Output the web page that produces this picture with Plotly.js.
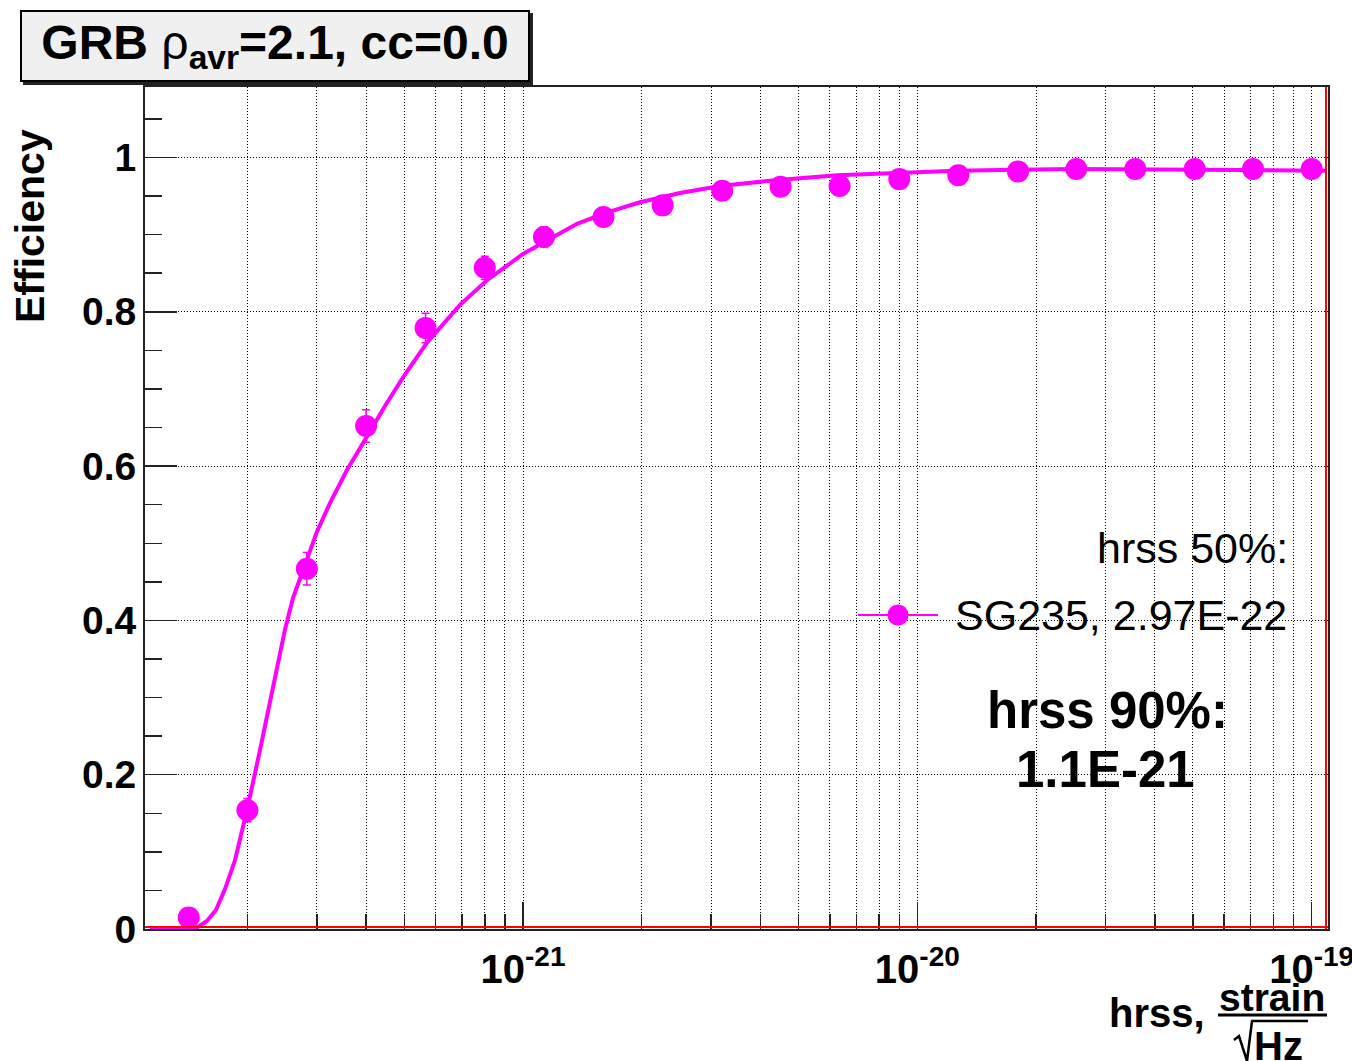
<!DOCTYPE html>
<html>
<head>
<meta charset="utf-8">
<script src="https://cdn.plot.ly/plotly-3.0.1.min.js"></script>
<style>
  html, body { margin: 0; padding: 0; background: #ffffff; }
  #chart { width: 1352px; height: 1061px; }
</style>
</head>
<body>
<div id="chart"></div>
<script>
// Detection efficiency of SG235 injections against hrss (GRB search)
const hrss = [1.42e-22, 2.0e-22, 2.83e-22, 4.0e-22, 5.66e-22, 8.0e-22, 1.13e-21, 1.6e-21,
              2.26e-21, 3.2e-21, 4.5e-21, 6.35e-21, 9.0e-21, 1.27e-20, 1.8e-20, 2.53e-20,
              3.57e-20, 5.05e-20, 7.1e-20, 1.0e-19];
const efficiency = [0.015, 0.154, 0.467, 0.652, 0.779, 0.857, 0.897, 0.923,
                    0.938, 0.957, 0.962, 0.963, 0.972, 0.977, 0.982, 0.985,
                    0.985, 0.985, 0.985, 0.985];
const efficiencyErr = [0.005, 0.015, 0.021, 0.021, 0.019, 0.015, 0.013, 0.011,
                       0.010, 0.009, 0.008, 0.008, 0.007, 0.006, 0.006, 0.005,
                       0.005, 0.005, 0.005, 0.005];

// Fitted efficiency curve, sampled along hrss
const fitHrss = [1.132e-22, 1.430e-22, 1.499e-22, 1.580e-22, 1.665e-22, 1.755e-22, 1.861e-22, 1.995e-22,
                 2.153e-22, 2.350e-22, 2.491e-22, 2.610e-22, 2.817e-22, 3.003e-22, 3.239e-22, 3.578e-22,
                 3.975e-22, 4.467e-22, 4.963e-22, 5.707e-22, 6.921e-22, 8.103e-22, 1.000e-21, 1.124e-21,
                 1.371e-21, 1.614e-21, 1.980e-21, 2.501e-21, 3.160e-21, 4.432e-21, 6.256e-21, 8.878e-21,
                 1.253e-20, 1.769e-20, 2.495e-20, 5.21e-20, 1.094e-19];
const fitEff = [0.0, 0.0, 0.0026, 0.0104, 0.0246, 0.0518, 0.0894, 0.154,
                0.232, 0.323, 0.388, 0.429, 0.476, 0.515, 0.552, 0.595,
                0.634, 0.678, 0.715, 0.760, 0.809, 0.841, 0.875, 0.890,
                0.914, 0.928, 0.942, 0.954, 0.963, 0.971, 0.977, 0.980,
                0.983, 0.984, 0.985, 0.984, 0.983];

// Axis ticks
const xMajorTicks = [1e-21, 1e-20, 1e-19];
const xMajorLabels = ['10<sup>-21</sup>', '10<sup>-20</sup>', '10<sup>-19</sup>'];
const decades = [1e-22, 1e-21, 1e-20];
const digits = [2, 3, 4, 5, 6, 7, 8, 9];

const legendLabel = 'SG235, 2.97E-22';
const legendHeader = 'hrss 50%:';
const hrss90Label = 'hrss 90%:';
const hrss90Value = '1.1E-21';

const xMinorTicks = [];
decades.forEach(d => digits.forEach(k => xMinorTicks.push(k * d)));

const MAGENTA = '#ff00ff';
const FONT = 'Liberation Sans, Arial, Helvetica, sans-serif';

// Page layout: plot frame in pixels
const L = 145, R = 1328, T = 87, B = 929;
const W = R - L, H = B - T;
const px = x => (x - L) / W;
const py = y => (B - y) / H;

const fitTrace = {
  x: fitHrss, y: fitEff,
  type: 'scatter', mode: 'lines',
  line: { color: MAGENTA, width: 4 },
  hoverinfo: 'skip', showlegend: false
};

const dataTrace = {
  x: hrss, y: efficiency,
  type: 'scatter', mode: 'markers',
  name: legendLabel,
  marker: { color: MAGENTA, size: 22, line: { width: 0 } },
  error_y: { type: 'data', array: efficiencyErr, visible: true,
             color: MAGENTA, thickness: 1.5, width: 4 },
  showlegend: false
};

const gridDash = '1px,2px';

const layout = {
  width: 1352, height: 1061,
  paper_bgcolor: '#ffffff', plot_bgcolor: '#ffffff',
  margin: { l: L, r: 1352 - R, t: T, b: 1061 - B, pad: 0 },
  showlegend: false,
  font: { family: FONT, color: '#000000' },
  xaxis: {
    type: 'log',
    range: [Math.log10(1.1e-22), Math.log10(1.1e-19)],
    tickmode: 'array', tickvals: xMajorTicks, ticktext: xMajorLabels,
    ticks: 'inside', ticklen: 27, tickwidth: 1.5, tickcolor: '#222222',
    tickfont: { family: FONT, size: 40, weight: 700, color: '#000000' },
    ticklabelstandoff: 4, ticklabeloverflow: 'allow',
    showgrid: true, gridcolor: '#000000', gridwidth: 1, griddash: gridDash,
    minor: {
      tickmode: 'array', tickvals: xMinorTicks,
      ticks: 'inside', ticklen: 15, tickwidth: 1.5, tickcolor: '#222222',
      showgrid: true, gridcolor: '#000000', gridwidth: 1, griddash: gridDash
    },
    showline: true, linecolor: '#222222', linewidth: 2, mirror: true,
    zeroline: false, automargin: false, fixedrange: true
  },
  yaxis: {
    range: [0, 1.0914],
    tick0: 0, dtick: 0.2,
    ticks: 'inside', ticklen: 32, tickwidth: 1.5, tickcolor: '#222222',
    tickfont: { family: FONT, size: 39, weight: 700, color: '#000000' },
    ticklabelstandoff: -1,
    showgrid: true, gridcolor: '#000000', gridwidth: 1, griddash: gridDash,
    minor: { dtick: 0.05, tick0: 0, ticks: 'inside', ticklen: 17, tickwidth: 1.5,
             tickcolor: '#222222', showgrid: false },
    showline: true, linecolor: '#222222', linewidth: 2, mirror: true,
    zeroline: false, automargin: false, fixedrange: true
  },
  shapes: [
    // red frame lines just inside the bottom and right axes
    { type: 'line', xref: 'paper', yref: 'paper', x0: 0, x1: 1,
      ysizemode: 'pixel', yanchor: 0, y0: 2, y1: 2,
      line: { color: '#ff0000', width: 2 }, layer: 'above' },
    { type: 'line', xref: 'paper', yref: 'paper', y0: 0, y1: 1,
      xsizemode: 'pixel', xanchor: 1, x0: -2, x1: -2,
      line: { color: '#ff0000', width: 2 }, layer: 'above' },
    // legend pad (covers the grid)
    { type: 'rect', xref: 'paper', yref: 'paper',
      x0: px(842), x1: px(1290), y0: py(901), y1: py(328),
      fillcolor: '#ffffff', line: { width: 0 }, layer: 'between' },
    // legend key
    { type: 'line', xref: 'paper', yref: 'paper',
      x0: px(858), x1: px(938), y0: py(615), y1: py(615),
      line: { color: MAGENTA, width: 2 }, layer: 'above' },
    { type: 'circle', xref: 'paper', yref: 'paper',
      x0: px(887.5), x1: px(908.5), y0: py(625.5), y1: py(604.5),
      fillcolor: MAGENTA, line: { width: 0 }, layer: 'above' },
    // title box shadow
    { type: 'rect', xref: 'paper', yref: 'paper',
      x0: px(23), x1: px(533), y0: py(85), y1: py(13),
      fillcolor: '#222222', line: { width: 0 }, layer: 'above' },
    // fraction bar and radical of the x unit
    { type: 'line', xref: 'paper', yref: 'paper',
      x0: px(1218), x1: px(1327), y0: py(1015), y1: py(1015),
      line: { color: '#000000', width: 3 }, layer: 'above' },
    { type: 'path', xref: 'paper', yref: 'paper',
      path: 'M' + px(1234) + ',' + py(1040) + ' L' + px(1239) + ',' + py(1036) +
            ' L' + px(1247) + ',' + py(1061) + ' L' + px(1252) + ',' + py(1021) +
            ' L' + px(1308) + ',' + py(1021),
      line: { color: '#000000', width: 2.5 }, layer: 'above' }
  ],
  annotations: [
    // title box
    { xref: 'paper', yref: 'paper', x: px(275), y: py(46), xanchor: 'center', yanchor: 'middle',
      text: '<b>GRB </b>ρ<sub><b>avr</b></sub><b>=2.1, cc=0.0</b>',
      font: { family: FONT, size: 48, color: '#000000' },
      showarrow: false, width: 506, height: 68, borderpad: 0,
      bgcolor: '#f0f0f0', bordercolor: '#000000', borderwidth: 2, align: 'center', valign: 'middle' },
    // y title
    { xref: 'paper', yref: 'paper', x: px(30), y: py(226), xanchor: 'center', yanchor: 'middle',
      text: '<b>Efficiency</b>', textangle: -90,
      font: { family: FONT, size: 41, color: '#000000' }, showarrow: false },
    // x title
    { xref: 'paper', yref: 'paper', x: px(1207), y: py(1027 - 14), xanchor: 'right', yanchor: 'middle',
      text: '<b>hrss,</b>', font: { family: FONT, size: 40, color: '#000000' }, showarrow: false },
    { xref: 'paper', yref: 'paper', x: px(1272), y: py(1010 - 13), xanchor: 'center', yanchor: 'middle',
      text: '<b>strain</b>', font: { family: FONT, size: 39, color: '#000000' }, showarrow: false },
    { xref: 'paper', yref: 'paper', x: px(1252), y: py(1060 - 14), xanchor: 'left', yanchor: 'middle',
      text: '<b>Hz</b>', font: { family: FONT, size: 40, color: '#000000' }, showarrow: false },
    // legend texts
    { xref: 'paper', yref: 'paper', x: px(1290), y: py(563 - 15), xanchor: 'right', yanchor: 'middle',
      text: legendHeader, font: { family: FONT, size: 43, color: '#000000' }, showarrow: false },
    { xref: 'paper', yref: 'paper', x: px(953), y: py(630 - 15), xanchor: 'left', yanchor: 'middle',
      text: legendLabel, font: { family: FONT, size: 43, color: '#000000' }, showarrow: false },
    { xref: 'paper', yref: 'paper', x: px(1107), y: py(728 - 17.7), xanchor: 'center', yanchor: 'middle',
      text: '<b>' + hrss90Label + '</b>', font: { family: FONT, size: 51, color: '#000000' }, showarrow: false },
    { xref: 'paper', yref: 'paper', x: px(1105), y: py(787 - 17.7), xanchor: 'center', yanchor: 'middle',
      text: '<b>' + hrss90Value + '</b>', font: { family: FONT, size: 51, color: '#000000' }, showarrow: false }
  ]
};

Plotly.newPlot('chart', [fitTrace, dataTrace], layout, { displayModeBar: false, staticPlot: true });
</script>
</body>
</html>
